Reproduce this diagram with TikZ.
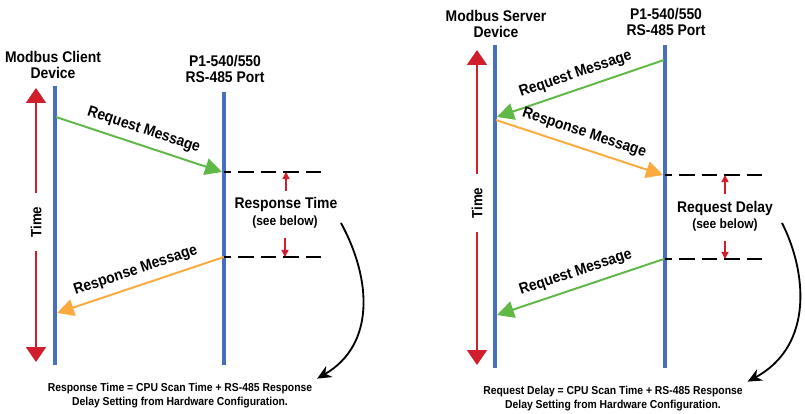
\documentclass[tikz,border=0pt]{standalone}
\usepackage{fontspec}
\setmainfont{Liberation Sans}[FakeStretch=0.9]
\usetikzlibrary{arrows.meta}

\definecolor{lifeblue}{RGB}{70,112,190}
\definecolor{reqgreen}{RGB}{96,184,70}
\definecolor{respyellow}{RGB}{250,170,62}
\definecolor{timered}{RGB}{208,30,44}

\tikzset{
    lifeline/.style={lifeblue,line width=2.8pt},
    title/.style={align=center,font=\fontsize{11}{11.8}\selectfont\bfseries},
    msglabel/.style={font=\fontsize{11}{12}\selectfont\bfseries,black,inner sep=1pt},
    reqmsg/.style={reqgreen,line width=1.4pt,-{Triangle[length=12pt,width=12pt]}},
    respmsg/.style={respyellow,line width=1.4pt,-{Triangle[length=12pt,width=12pt]}},
    timelabel/.style={rotate=90,font=\fontsize{10.5}{12}\selectfont\bfseries,inner xsep=9.5pt},
    timearrow/.style={timered,line width=1.4pt,-{Triangle[length=10.5pt,width=14pt]}},
    waitline/.style={black,line width=1.3pt,dash pattern=on 11pt off 5pt,dash phase=6pt},
    tick/.style={timered,line width=1pt,-{Triangle[length=5pt,width=5pt]}},
    delaylabel/.style={font=\fontsize{11}{12}\selectfont\bfseries},
    notelabel/.style={font=\fontsize{9.5}{10}\selectfont\bfseries},
    caption/.style={align=center,font=\fontsize{8.2}{10}\selectfont\bfseries},
    curvearrow/.style={black,line width=1.3pt,-{Stealth[length=10pt,width=9pt]}}
}

\begin{document}
\begin{tikzpicture}[x=0.025cm,y=-0.025cm]
\useasboundingbox (0,0) rectangle (805,414);

% Client side
\node[title] (client) at (53,65) {Modbus Client\\Device};
\node[title] (portA) at (225,69) {P1-540/550\\RS-485 Port};

\coordinate (cTop) at (55,86);
\coordinate (cBot) at (55,365);
\coordinate (aTop) at (224,92);
\coordinate (aBot) at (224,365);
\draw[lifeline] (cTop) -- (cBot);
\draw[lifeline] (aTop) -- (aBot);

% time
\node[timelabel] (timeA) at (36,222) {Time};
\coordinate (timeAup) at (36,88);
\coordinate (timeAdown) at (36,362);
\draw[timearrow] (timeA.east) -- (timeAup);
\draw[timearrow] (timeA.west) -- (timeAdown);

% messages
\coordinate (reqAs) at (56,117);
\coordinate (reqAe) at (222,172);
\coordinate (respAs) at (224,257);
\coordinate (respAe) at (57,313);
\draw[reqmsg] (reqAs) -- (reqAe)
    node[midway,above=4pt,sloped,msglabel] {Request Message};
\draw[respmsg] (respAs) -- (respAe)
    node[midway,above=4pt,sloped,msglabel] {Response Message};

% response time
\coordinate (dashAs) at (224,172);
\coordinate (dashAe) at (322,172);
\coordinate (dashBs) at (224,257);
\coordinate (dashBe) at (322,257);
\draw[waitline] (dashAs) -- (dashAe);
\draw[waitline] (dashBs) -- (dashBe);

\node[delaylabel] (rtime) at (286,205) {Response Time};
\node[notelabel] (rnote) at (285,222) {(see below)};
\draw[tick] (rtime.north) ++(0,-2) coordinate (rtick) -- (rtick |- dashAe);
\draw[tick] (rnote.south) ++(0,5) coordinate (rtickb) -- (rtickb |- dashBe);

\node[caption] (rcap) at (180,396) {Response Time = CPU Scan Time + RS-485 Response\\Delay Setting from Hardware Configuration.};
\coordinate (curveAs) at (341,223);
\draw[curvearrow] (curveAs) .. controls (372,280) and (375,345) .. (rcap.north east);

% Server side
\node[title] (server) at (496,24) {Modbus Server\\Device};
\node[title] (portB) at (666,22) {P1-540/550\\RS-485 Port};

\coordinate (sTop) at (495,45);
\coordinate (sBot) at (495,368);
\coordinate (bTop) at (665,45);
\coordinate (bBot) at (665,368);
\draw[lifeline] (sTop) -- (sBot);
\draw[lifeline] (bTop) -- (bBot);

% time
\node[timelabel] (timeB) at (477,203) {Time};
\coordinate (timeBup) at (477,50);
\coordinate (timeBdown) at (477,365);
\draw[timearrow] (timeB.east) -- (timeBup);
\draw[timearrow] (timeB.west) -- (timeBdown);

% messages
\coordinate (reqBs) at (664,60);
\coordinate (reqBe) at (497,117);
\coordinate (respBs) at (496,120);
\coordinate (respBe) at (663,175);
\coordinate (reqCs) at (664,259);
\coordinate (reqCe) at (497,315);
\draw[reqmsg] (reqBs) -- (reqBe)
    node[midway,above=4pt,sloped,msglabel] {Request Message};
\draw[respmsg] (respBs) -- (respBe)
    node[midway,above=4pt,sloped,msglabel] {Response Message};
\draw[reqmsg] (reqCs) -- (reqCe)
    node[midway,above=4pt,sloped,msglabel] {Request Message};

% request delay
\coordinate (dashCs) at (665,175);
\coordinate (dashCe) at (762,175);
\coordinate (dashDs) at (665,259);
\coordinate (dashDe) at (762,259);
\draw[waitline] (dashCs) -- (dashCe);
\draw[waitline] (dashDs) -- (dashDe);

\node[delaylabel] (rdelay) at (725,208) {Request Delay};
\node[notelabel] (dnote) at (725,225) {(see below)};
\draw[tick] (rdelay.north) ++(0,-2) coordinate (dtick) -- (dtick |- dashCe);
\draw[tick] (dnote.south) ++(0,5) coordinate (dtickb) -- (dtickb |- dashDe);

\node[caption] (dcap) at (613,399) {Request Delay = CPU Scan Time + RS-485 Response\\Delay Setting from Hardware Configuration.};
\coordinate (curveBs) at (782,223);
\draw[curvearrow] (curveBs) .. controls (806,270) and (815,345) .. (dcap.north east);

\end{tikzpicture}
\end{document}
